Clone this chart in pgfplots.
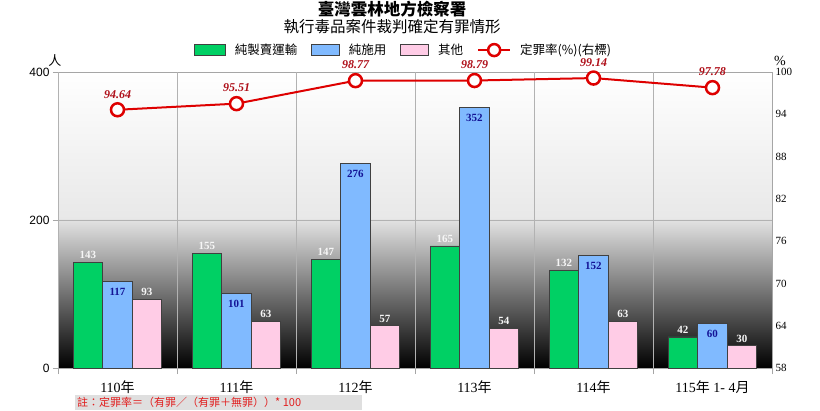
\documentclass[border=0pt]{standalone}
\usepackage{pgfplots}
\pgfplotsset{compat=1.18}
\usepackage{fontspec}
\setmainfont{Liberation Serif}
\setsansfont{Liberation Sans}
\newfontfamily\cjk{Noto Sans CJK TC}
\newcommand{\cj}[1]{{\cjk #1}}
\definecolor{cgreen}{RGB}{0,208,100}
\definecolor{cblue}{RGB}{128,186,255}
\definecolor{cpink}{RGB}{255,204,230}
\definecolor{cred}{RGB}{222,0,0}
\definecolor{clab}{RGB}{175,15,25}
\definecolor{cnavy}{RGB}{20,20,150}
\definecolor{cfoot}{RGB}{225,30,30}
\pgfplotsset{
  boxlegA/.style={legend image code/.code={\draw[##1] (0pt,-5pt) rectangle (31pt,6pt);}},
  boxlegB/.style={legend image code/.code={\draw[##1] (0pt,-5pt) rectangle (28pt,6pt);}},
  linleg/.style={legend image code/.code={\draw[##1] (0pt,0pt) -- (32pt,0pt); \draw[cred, fill=white, line width=2.5pt] (16pt,0pt) circle (6pt);}},
}
\begin{document}
\begin{tikzpicture}[x=1pt,y=1pt]
\useasboundingbox (0,0) rectangle (820,410);
\fill[white] (0,0) rectangle (820,410);
\shade[top color=white, bottom color={rgb,255:red,232;green,232;blue,232}] (58,190) rectangle (772,338);
\shade[top color={rgb,255:red,226;green,226;blue,226}, bottom color=black] (58,42) rectangle (772,190);
\begin{axis}[
  at={(58pt,42pt)}, anchor=south west,
  scale only axis, width=714pt, height=296pt,
  xmin=-0.5, xmax=5.5, ymin=0, ymax=400,
  ybar=0pt, bar width=29.5pt,
  axis line style={gray!70, line width=0.8pt},
  xtick={0,1,2,3,4,5},
  xticklabels={110\cj{年}, 111\cj{年}, 112\cj{年}, 113\cj{年}, 114\cj{年}, 115\cj{年} 1- 4\cj{月}},
  xticklabel style={font=\fontsize{14}{14}\selectfont, yshift=-4pt},
  x tick style={draw=none},
  xtick pos=bottom, ytick pos=left,
  extra x ticks={-0.5,0.5,1.5,2.5,3.5,4.5,5.5},
  extra x tick labels={},
  extra x tick style={grid=major, x tick style={draw=gray!70, line width=0.8pt}, major tick length=6pt},
  ytick={0,200,400},
  ymajorgrids,
  major grid style={gray!60, line width=0.8pt},
  y tick style={draw=gray!70, line width=0.8pt},
  tick align=outside, major tick length=5pt,
  yticklabel style={font=\sffamily\fontsize{12}{12}\selectfont},
  /pgf/number format/assume math mode=true,
  clip=false,
]
\addplot[fill=cgreen, draw=black!75, line width=0.7pt,
  nodes near coords,
  nodes near coords style={font=\bfseries\fontsize{11}{11}\selectfont, text=white!93!gray}]
  coordinates {(0,143) (1,155) (2,147) (3,165) (4,132) (5,42)};
\addplot[fill=cblue, draw=black!75, line width=0.7pt,
  nodes near coords, nodes near coords align={below=3pt},
  nodes near coords style={font=\bfseries\fontsize{11}{11}\selectfont, text=cnavy}]
  coordinates {(0,117) (1,101) (2,276) (3,352) (4,152) (5,60)};
\addplot[fill=cpink, draw=black!75, line width=0.7pt,
  nodes near coords,
  nodes near coords style={font=\bfseries\fontsize{11}{11}\selectfont, text=white!93!gray}]
  coordinates {(0,93) (1,63) (2,57) (3,54) (4,63) (5,30)};
\end{axis}
\begin{axis}[
  at={(58pt,42pt)}, anchor=south west,
  scale only axis, width=714pt, height=296pt,
  xmin=-0.5, xmax=5.5, ymin=58, ymax=100,
  axis y line*=right, hide x axis,
  axis line style={gray!70, line width=0.8pt},
  ytick={58,64,70,76,82,88,94,100},
  major tick length=0pt,
  yticklabel style={font=\fontsize{11}{11}\selectfont},
  /pgf/number format/assume math mode=true,
  clip=false,
  legend columns=4,
  legend style={at={(0.484,1.074)}, anchor=center, draw=none, fill=none,
    font=\cjk\fontsize{12.5}{12.5}\selectfont,
    /tikz/every even column/.append style={column sep=12pt},
    /tikz/every odd column/.append style={column sep=7pt}},
]
\addlegendimage{boxlegA, fill=cgreen, draw=black!75, line width=0.7pt}
\addlegendimage{boxlegB, fill=cblue, draw=black!75, line width=0.7pt}
\addlegendimage{boxlegB, fill=cpink, draw=black!75, line width=0.7pt}
\addlegendimage{linleg, draw=cred, line width=2pt}
\legend{純製賣運輸, 純施用, 其他, 定罪率(\%)(右標)}
\addplot[forget plot, cred, line width=2pt, mark=*, mark size=6.5pt,
  mark options={fill=white, draw=cred, line width=2.5pt},
  nodes near coords,
  nodes near coords style={anchor=south, yshift=7pt, text=clab, font=\bfseries\itshape\fontsize{12}{12}\selectfont, /pgf/number format/.cd, fixed, fixed zerofill, precision=2}]
  coordinates {(0,94.64) (1,95.51) (2,98.77) (3,98.79) (4,99.14) (5,97.78)};
\end{axis}
\node[inner sep=0pt, font=\cjk\bfseries\fontsize{16.5}{16.5}\selectfont] at (392,400.5) {臺灣雲林地方檢察署};
\node[inner sep=0pt, font=\cjk\fontsize{15.5}{15.5}\selectfont] at (392,383.5) {執行毒品案件裁判確定有罪情形};
\node[font=\cjk\fontsize{13}{13}\selectfont] at (55,349) {人};
\node[font=\fontsize{14}{14}\selectfont] at (780,349) {\%};
\fill[gray!25] (75,0) rectangle (362,15);
\node[anchor=west, inner sep=0pt, text=cfoot, font=\cjk\fontsize{11}{11}\selectfont] at (77,7.5) {註：定罪率＝（有罪／（有罪＋無罪））* 100};
\end{tikzpicture}
\end{document}
